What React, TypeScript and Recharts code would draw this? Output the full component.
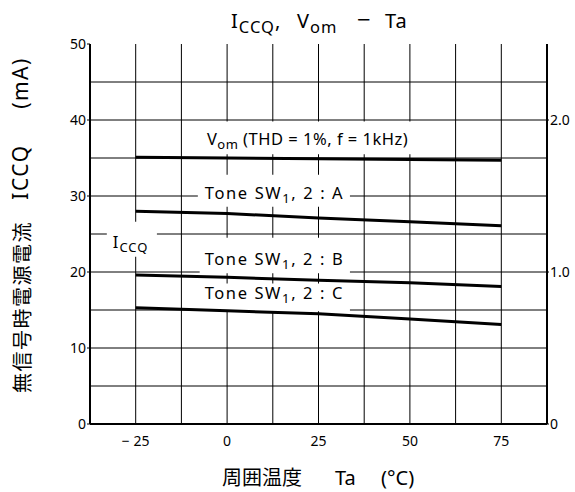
import {
  LineChart,
  Line,
  XAxis,
  YAxis,
  CartesianGrid,
  ReferenceArea,
} from "recharts";

const temps = [-25, 0, 25, 50, 75];
const toneA = [28.0, 27.7, 27.1, 26.6, 26.1];
const toneB = [19.6, 19.3, 18.9, 18.6, 18.1];
const toneC = [15.3, 14.9, 14.5, 13.8, 13.1];
const vom = [1.755, 1.75, 1.745, 1.74, 1.735];

const xTicks = [-25, 0, 25, 50, 75];
const xGrid = [-25, -12.5, 0, 12.5, 25, 37.5, 50, 62.5, 75];
const mATicks = [0, 10, 20, 30, 40, 50];
const mAGrid = [5, 10, 15, 20, 25, 30, 35, 40, 45];
const vTicks = [0, 1, 2];

const data = temps.map((t, i) => ({
  t,
  a: toneA[i],
  b: toneB[i],
  c: toneC[i],
  vom: vom[i],
}));

const FONT = "'Noto Sans', 'Noto Sans CJK JP', sans-serif";
const CJK = "'Noto Sans CJK JP', 'Noto Sans', sans-serif";

// white boxes behind the in-plot labels (they blank the grid like the print)
const notes = [
  { x1: -11, x2: 50.5, y1: 35.5, y2: 39.8, main: "V", sub: "om", tail: " (THD = 1%, f = 1kHz)", dx: 20, dy: 9, ls: 0.5 },
  { x1: -8, x2: 33.6, y1: 28.6, y2: 32.8, main: "Tone SW", sub: "1", tail: ", 2 : A", dx: 7, dy: 8, ls: 1.6 },
  { x1: -32.9, x2: -19.2, y1: 22.0, y2: 26.6, main: "I", sub: "CCQ", tail: "", dx: 6, dy: 9, ls: 1 },
  { x1: -7.5, x2: 33.6, y1: 19.85, y2: 24.5, main: "Tone SW", sub: "1", tail: ", 2 : B", dx: 5, dy: 8, ls: 1.6 },
  { x1: -7.5, x2: 33.6, y1: 14.85, y2: 18.5, main: "Tone SW", sub: "1", tail: ", 2 : C", dx: 5, dy: 12, ls: 1.6 },
];

type Note = (typeof notes)[number];

function noteLabel(n: Note) {
  return (props: any) => {
    const vb = props.viewBox || {};
    const x = vb.x + n.dx;
    const y = vb.y + vb.height - n.dy;
    return (
      <text x={x} y={y} fontFamily={FONT} fontSize={16.5} letterSpacing={n.ls} fill="#000">
        <tspan>{n.main}</tspan>
        <tspan fontSize={13} dy={4}>
          {n.sub}
        </tspan>
        {n.tail ? <tspan dy={-4}>{n.tail}</tspan> : null}
      </text>
    );
  };
}

const tickStyle = { fontSize: 14, fill: "#000", fontFamily: FONT };

export default function App() {
  return (
    <div style={{ position: "absolute", left: 0, top: 0 }}>
      <LineChart
        width={575}
        height={492}
        data={data}
        margin={{ top: 44, right: 0, bottom: 0, left: 40 }}
      >
        <CartesianGrid
          yAxisId="mA"
          stroke="#000"
          strokeWidth={1}
          verticalValues={xGrid}
          horizontalValues={mAGrid}
        />
        <XAxis
          dataKey="t"
          type="number"
          domain={[-37.5, 87.5]}
          ticks={xTicks}
          tickLine={false}
          axisLine={{ stroke: "#000", strokeWidth: 2 }}
          tick={tickStyle}
          tickMargin={6}
          height={68}
          tickFormatter={(v: number) => (v < 0 ? `\u2212 ${Math.abs(v)}` : `${v}`)}
        />
        <XAxis
          xAxisId="top"
          orientation="top"
          type="number"
          domain={[-37.5, 87.5]}
          tick={false}
          tickLine={false}
          height={0}
          axisLine={{ stroke: "#000", strokeWidth: 2 }}
        />
        <YAxis
          yAxisId="mA"
          domain={[0, 50]}
          ticks={mATicks}
          width={50}
          tick={tickStyle}
          tickSize={3}
          tickMargin={1}
          tickLine={{ stroke: "#000" }}
          axisLine={{ stroke: "#000", strokeWidth: 2 }}
        />
        <YAxis
          yAxisId="V"
          orientation="right"
          domain={[0, 2.5]}
          ticks={vTicks}
          width={28}
          tick={tickStyle}
          tickSize={2}
          tickMargin={1}
          tickLine={{ stroke: "#000" }}
          axisLine={{ stroke: "#000", strokeWidth: 2 }}
          tickFormatter={(v: number) => (v === 0 ? "0" : v.toFixed(1))}
        />
        {notes.map((n, i) => (
          <ReferenceArea
            key={i}
            yAxisId="mA"
            x1={n.x1}
            x2={n.x2}
            y1={n.y1}
            y2={n.y2}
            fill="#fff"
            fillOpacity={1}
            stroke="none"
            label={noteLabel(n)}
          />
        ))}
        <Line yAxisId="V" dataKey="vom" stroke="#000" strokeWidth={3} dot={false} isAnimationActive={false} />
        <Line yAxisId="mA" dataKey="a" stroke="#000" strokeWidth={3} dot={false} isAnimationActive={false} />
        <Line yAxisId="mA" dataKey="b" stroke="#000" strokeWidth={3} dot={false} isAnimationActive={false} />
        <Line yAxisId="mA" dataKey="c" stroke="#000" strokeWidth={3} dot={false} isAnimationActive={false} />

        <text y={28} fontFamily={FONT} fontSize={20} letterSpacing={1} fill="#000">
          <tspan x={231}>I</tspan>
          <tspan fontSize={16.5} dy={5}>CCQ</tspan>
          <tspan dy={-5}>,</tspan>
          <tspan x={297}>V</tspan>
          <tspan fontSize={16.5} dy={5}>om</tspan>
          <tspan x={357} dy={-5} fontSize={24}>{"\u2212"}</tspan>
          <tspan x={385}>Ta</tspan>
        </text>

        <text x={222} y={485} fontFamily={CJK} fontSize={20} fill="#000">
          <tspan>周囲温度</tspan>
          <tspan x={335} fontFamily={FONT}>Ta</tspan>
          <tspan x={381} fontFamily={FONT}>(°C)</tspan>
        </text>

        <text x={30} y={307} transform="rotate(-90 30 307)" textAnchor="middle" fontFamily={CJK} fontSize={20} letterSpacing={1.5} fill="#000">
          無信号時電源電流
        </text>
        <text x={28} y={172} transform="rotate(-90 28 172)" textAnchor="middle" fontFamily={FONT} fontSize={21} letterSpacing={1.5} fill="#000">
          ICCQ
        </text>
        <text x={28} y={83} transform="rotate(-90 28 83)" textAnchor="middle" fontFamily={FONT} fontSize={21} letterSpacing={1.5} fill="#000">
          (mA)
        </text>
      </LineChart>
    </div>
  );
}
